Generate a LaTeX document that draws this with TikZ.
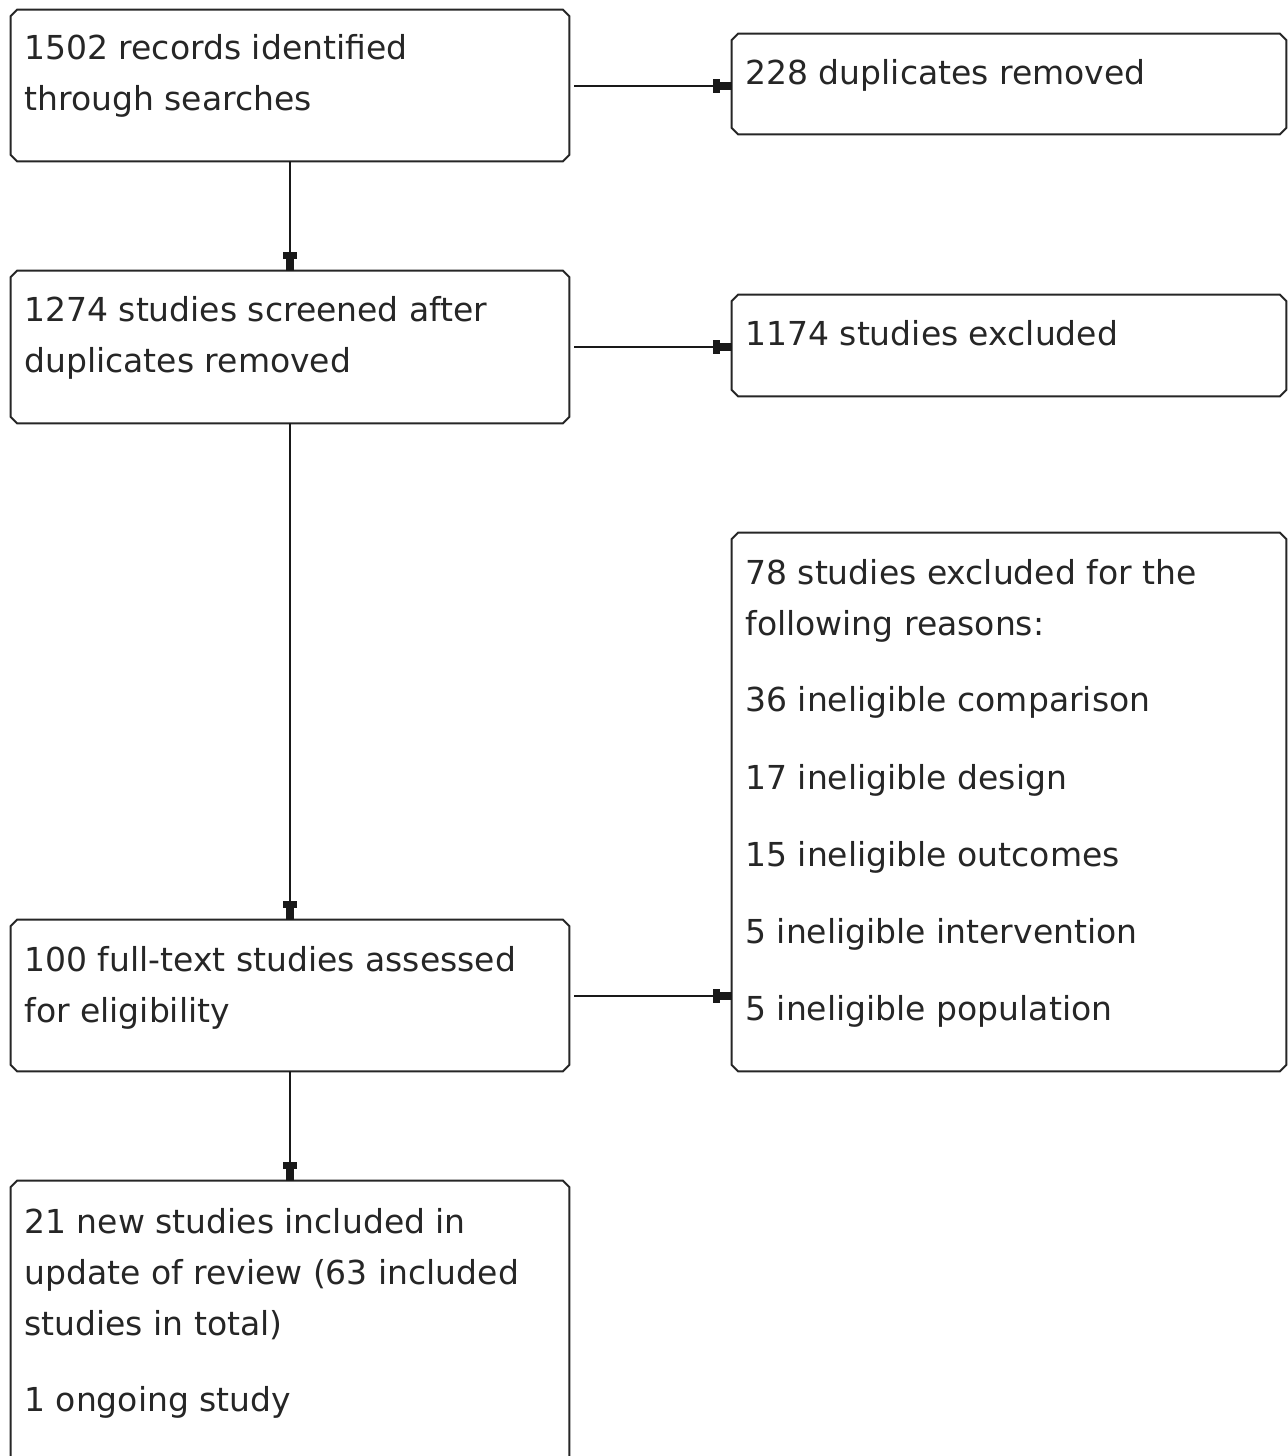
\documentclass[tikz,border=0pt]{standalone}
\usepackage{fontspec}
\setmainfont{DejaVu Sans}
\usetikzlibrary{arrows.meta}
\newcommand\chamferbox[1]{%
  \draw[boxline] ([xshift=3.3pt]#1.north west) -- ([xshift=-3.3pt]#1.north east)
    -- ([yshift=-3.3pt]#1.north east) -- ([yshift=3.3pt]#1.south east)
    -- ([xshift=-3.3pt]#1.south east) -- ([xshift=3.3pt]#1.south west)
    -- ([yshift=3.3pt]#1.south west) -- ([yshift=-3.3pt]#1.north west) -- cycle;}
\begin{document}
\begin{tikzpicture}[x=0.5pt,y=-0.5pt,
  box/.style={rectangle,draw=none,inner sep=0pt,minimum width=#1},
  boxline/.style={draw=black!85,line width=1pt},
  txt/.style={anchor=base west,inner sep=0pt,text=black!85,font=\fontsize{16.5pt}{25.5pt}\selectfont},
  arr/.style={draw=black!90,line width=1pt,-{Rectangle[length=3.5pt,width=7pt,sep=0pt]Rectangle[length=6pt,width=4pt]}}]
\clip (0,0) rectangle (1288,1456);
\fill[white] (0,0) rectangle (1288,1456);
% boxes
\node[box=279pt,minimum height=75.5pt] (A) at (290,85.5) {};
\node[box=277pt,minimum height=50pt] (B) at (1009,84) {};
\node[box=279pt,minimum height=76pt] (C) at (290,347) {};
\node[box=277pt,minimum height=50.5pt] (D) at (1009,345.5) {};
\node[box=277pt,minimum height=269pt] (E) at (1009,802) {};
\node[box=279pt,minimum height=75.5pt] (F) at (290,995.5) {};
\node[box=279pt,minimum height=149.5pt] (G) at (290,1330.5) {};
\chamferbox{A}\chamferbox{B}\chamferbox{C}\chamferbox{D}
\chamferbox{E}\chamferbox{F}\chamferbox{G}
% texts
\node[txt] (a1) at (24,59) {1502 records identified};
\node[txt] (a2) at (24,110) {through searches};
\node[txt] (b1) at (745,84) {228 duplicates removed};
\node[txt] (c1) at (24,321) {1274 studies screened after};
\node[txt] (c2) at (24,372) {duplicates removed};
\node[txt] (d1) at (745,345) {1174 studies excluded};
\node[txt] (e1) at (745,584) {78 studies excluded for the};
\node[txt] (e2) at (745,635) {following reasons:};
\node[txt] (e3) at (745,711) {36 ineligible comparison};
\node[txt] (e4) at (745,789) {17 ineligible design};
\node[txt] (e5) at (745,866) {15 ineligible outcomes};
\node[txt] (e6) at (745,943) {5 ineligible intervention};
\node[txt] (e7) at (745,1020) {5 ineligible population};
\node[txt] (f1) at (24,971) {100 full-text studies assessed};
\node[txt] (f2) at (24,1022) {for eligibility};
\node[txt] (g1) at (24,1233) {21 new studies included in};
\node[txt] (g2) at (24,1284) {update of review (63 included};
\node[txt] (g3) at (24,1335) {studies in total)};
\node[txt] (g4) at (24,1411) {1 ongoing study};
% connectors
\draw[arr,shorten <=2.5pt] (A.east) -- (A.east -| B.west);
\draw[arr,shorten <=2.5pt] (C.east) -- (C.east -| D.west);
\draw[arr,shorten <=2.5pt] (F.east) -- (F.east -| E.west);
\draw[arr] (A.south) -- (C.north);
\draw[arr] (C.south) -- (F.north);
\draw[arr] (F.south) -- (G.north);
\end{tikzpicture}
\end{document}
